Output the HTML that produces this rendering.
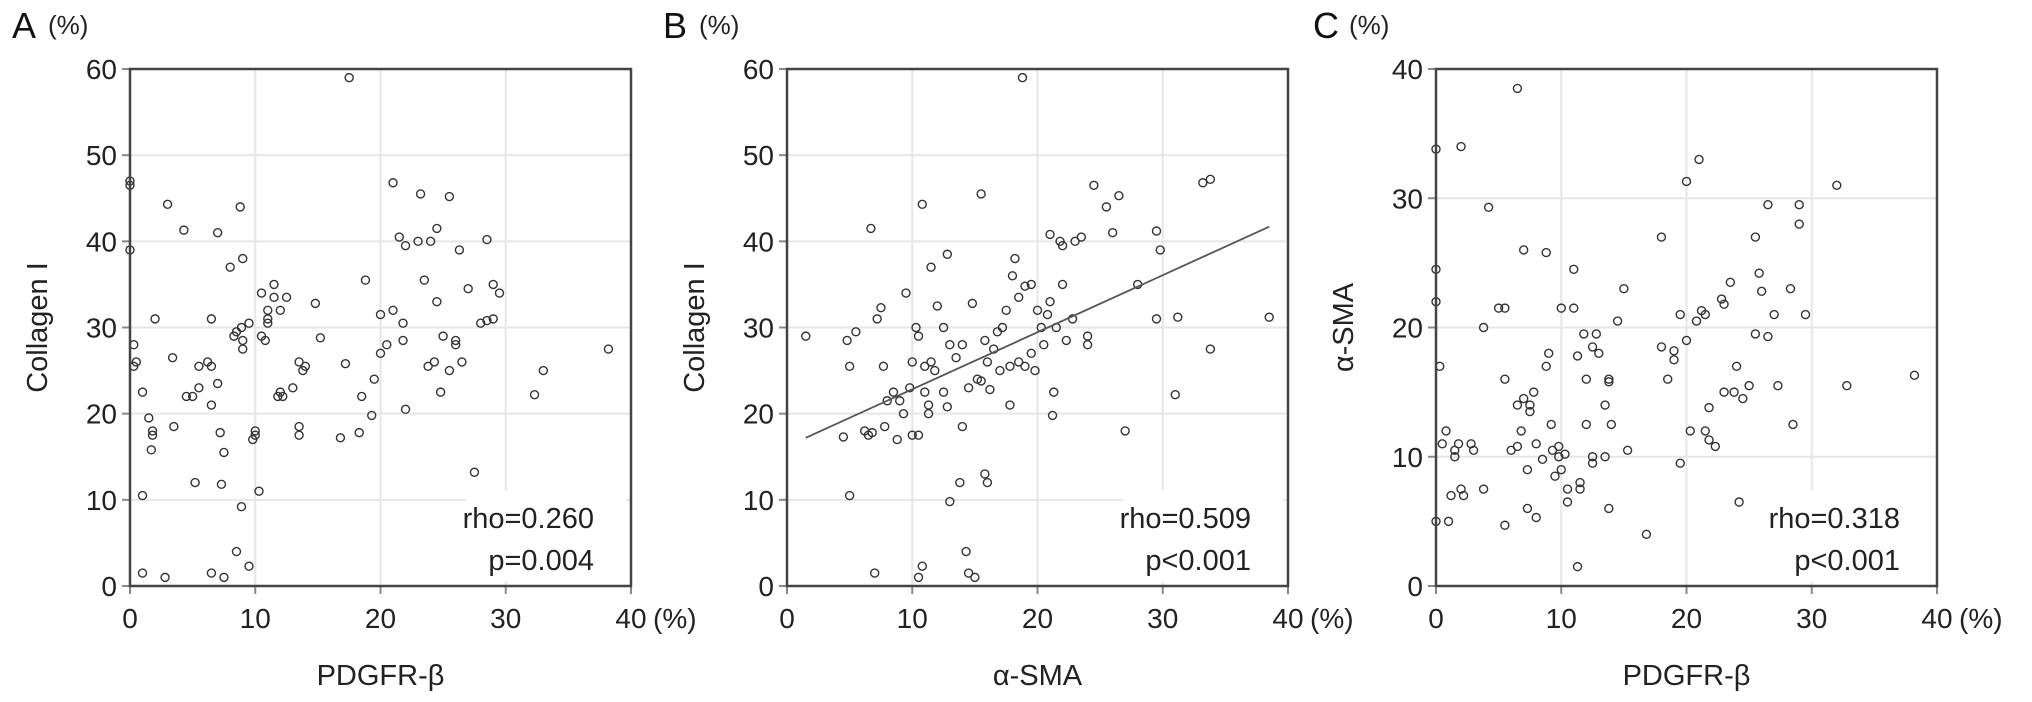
<!DOCTYPE html>
<html><head><meta charset="utf-8"><style>
body{margin:0;background:#fff}
svg{display:block;font-family:"Liberation Sans",sans-serif}
</style></head><body>
<svg id="s" width="2032" height="702" viewBox="0 0 2032 702"></svg>
<script>
const xTicks=[0,10,20,30,40];
const yTicksAB=[0,10,20,30,40,50,60];
const yTicksC=[0,10,20,30,40];
const aX=[0,0,0,0.3,0.5,0.3,1,1,1,1.5,1.8,1.8,1.7,2,2.8,3,3.4,3.5,4.3,4.5,5.5,5,5.2,5.5,6.5,6.2,6.5,6.5,6.5,7,7,7.2,7.3,7.5,7.5,8,8.3,8.5,8.5,8.8,8.9,9,9,9,8.9,9.5,9.5,9.8,10,10,10.3,10.5,10.5,10.8,11,11,11,11.5,11.5,11.8,12,12,12.2,12.5,13,13.5,13.5,13.5,13.8,14,14.8,15.2,16.8,17.2,17.5,18.3,18.5,18.8,19.3,19.5,20,20,20.5,21,21,21.5,21.8,21.8,22,22,23,23.2,23.5,23.8,24,24.3,24.5,24.5,24.8,25,25.5,25.5,26,26,26.3,26.5,27,27.5,28,28.5,28.5,29,29,29.5,32.3,33,38.2];
const aY=[47,46.5,39,28,26,25.5,22.5,10.5,1.5,19.5,18,17.5,15.8,31,1,44.3,26.5,18.5,41.3,22,25.5,22,12,23,31,26,25.5,21,1.5,41,23.5,17.8,11.8,1,15.5,37,29,29.5,4,44,30,27.5,28.5,38,9.2,2.3,30.5,17,18,17.5,11,34,29,28.5,31,30.5,32,33.5,35,22,32,22.5,22,33.5,23,26,18.5,17.5,25,25.5,32.8,28.8,17.2,25.8,59,17.8,22,35.5,19.8,24,31.5,27,28,46.8,32,40.5,28.5,30.5,39.5,20.5,40,45.5,35.5,25.5,40,26,41.5,33,22.5,29,45.2,25,28.5,28,39,26,34.5,13.2,30.5,40.2,30.8,31,35,34,22.2,25,27.5];
const bX=[1.5,4.5,4.8,5,5,5.5,6.2,6.5,6.7,6.8,7.2,7.5,7.7,7,7.8,8,8.5,8.8,9,9.3,9.5,9.8,10,10,10.3,10.5,10.5,10.5,10.8,10.8,11,11,11.3,11.3,11.5,11.5,11.8,12,12.5,12.5,12.8,12.8,13,13,13.5,13.8,14,14,14.3,14.5,14.5,14.8,15,15.2,15.5,15.5,15.8,15.8,16,16,16.2,16.5,16.8,17,17.2,17.5,17.8,17.8,18,18.2,18.5,18.5,18.8,19,19,19.5,19.5,19.8,20,20.3,20.5,20.8,21,21,21.2,21.3,21.5,21.8,22,22,22.3,22.8,23,23.5,24,24.5,24,25.5,26,26.5,27,28,29.5,29.5,29.8,31,31.2,33.2,33.8,33.8,38.5];
const bY=[29,17.3,28.5,25.5,10.5,29.5,18,17.5,41.5,17.8,31,32.3,25.5,1.5,18.5,21.5,22.5,17,21.5,20,34,23,17.5,26,30,29,17.5,1,2.3,44.3,25.5,22.5,21,20,37,26,25,32.5,30,22.5,38.5,20.8,28,9.8,26.5,12,18.5,28,4,1.5,23,32.8,1,24,45.5,23.8,28.5,13,12,26,22.8,27.5,29.5,25,30,32,21,25.5,36,38,26,33.5,59,25.5,34.8,35,27,25,32,30,28,31.5,33,40.8,19.8,22.5,30,40,39.5,35,28.5,31,40,40.5,28,46.5,29,44,41,45.3,18,35,41.2,31,39,22.2,31.2,46.8,47.2,27.5,31.2];
const bFitX=[1.5,38.5];
const bFitY=[17.2,41.7];
const cX=[0,0,0,0,0.3,0.5,0.8,1,1.2,1.5,1.5,1.8,2,2,2.2,2.8,3,3.8,3.8,4.2,5,5.5,5.5,5.5,6,6.5,6.5,6.5,6.8,7,7,7.3,7.3,7.5,7.5,7.8,8,8,8.5,8.8,8.8,9,9.2,9.3,9.5,9.8,9.8,10,10,10.3,10.5,10.5,11,11,11.3,11.3,11.5,11.5,11.8,12,12,12.5,12.5,12.5,12.8,13,13.5,13.8,13.8,13.5,13.8,14,14.5,15,15.3,16.8,18,18,18.5,19,19,19.5,19.5,20,20,20.3,20.8,21,21.2,21.5,21.5,21.8,21.8,22.3,22.8,23,23,23.5,23.8,24,24.2,24.5,25,25.5,25.5,25.8,26,26.5,26.5,27,27.3,28.3,28.5,29,29,29.5,32,32.8,38.2];
const cY=[33.8,24.5,22,5,17,11,12,5,7,10.5,10,11,34,7.5,7,11,10.5,20,7.5,29.3,21.5,21.5,16,4.7,10.5,38.5,14,10.8,12,26,14.5,9,6,14,13.5,15,11,5.3,9.8,17,25.8,18,12.5,10.5,8.5,10.8,10,21.5,9,10.2,7.5,6.5,24.5,21.5,17.8,1.5,8,7.5,19.5,16,12.5,10,9.5,18.5,19.5,18,14,16,15.8,10,6,12.5,20.5,23,10.5,4,27,18.5,16,18.2,17.5,21,9.5,19,31.3,12,20.5,33,21.3,21,12,13.8,11.3,10.8,22.2,15,21.8,23.5,15,17,6.5,14.5,15.5,19.5,27,24.2,22.8,29.5,19.3,21,15.5,23,12.5,29.5,28,21,31,15.5,16.3];

const NS='http://www.w3.org/2000/svg';
const svg=document.getElementById('s');
function mk(t,a,p){const e=document.createElementNS(NS,t);for(const k in a)e.setAttribute(k,a[k]);(p||svg).appendChild(e);return e;}

function panel(o){
  const g=mk('g',{});
  
  
  const x0=o.left,x1=o.left+501,y0=586,y1=69;
  const sx=v=>x0+(v/40)*(x1-x0);
  const sy=v=>y0-(v/o.ymax)*(y0-y1);
  xTicks.forEach(t=>{if(t>0&&t<40){const l=mk('line',{x1:sx(t),x2:sx(t),y1:y1,y2:y0,stroke:'#e6e6e6','stroke-width':2},g);}});
  o.yt.forEach(t=>{if(t>0&&t<o.ymax){const l=mk('line',{x1:x0,x2:x1,y1:sy(t),y2:sy(t),stroke:'#e6e6e6','stroke-width':2},g);}});
  const bg=mk('rect',{x:x1-165,y:490,width:160,height:92,fill:'#fff'},g);
  
  
  xTicks.forEach(t=>{
    mk('line',{x1:sx(t),x2:sx(t),y1:y0,y2:y0+8,stroke:'#888','stroke-width':2},g);
    const tx=mk('text',{x:sx(t),y:628,'font-size':28,'text-anchor':'middle',fill:'#222'},g);
    tx.textContent=t;
    
    
  });
  const pc=mk('text',{x:sx(40)+22,y:628,'font-size':28,fill:'#222'},g);pc.textContent='(%)';
  
  
  o.yt.forEach(t=>{
    mk('line',{x1:x0-8,x2:x0,y1:sy(t),y2:sy(t),stroke:'#888','stroke-width':2},g);
    const tx=mk('text',{x:x0-13,y:sy(t)+10,'font-size':28,'text-anchor':'end',fill:'#222'},g);
    tx.textContent=t;
    
    
  });
  o.xs.forEach((v,i)=>{
    const c=mk('circle',{cx:sx(v),cy:sy(o.ys[i]),r:4,fill:'none',stroke:'#333','stroke-width':1.4},g);
    
    
  });
  if(o.fit){
    const l=mk('line',{x1:sx(o.fit[0][0]),y1:sy(o.fit[1][0]),x2:sx(o.fit[0][1]),y2:sy(o.fit[1][1]),stroke:'#555','stroke-width':1.8},g);
    
    
  }
  const fr=mk('rect',{x:x0,y:y1,width:x1-x0,height:y0-y1,fill:'none',stroke:'#444','stroke-width':2.5},g);
  
  
  const r1=mk('text',{x:x1-37,y:528,'font-size':29,'text-anchor':'end',fill:'#222'},g);r1.textContent=o.rho;
  
  
  const r2=mk('text',{x:x1-37,y:570,'font-size':29,'text-anchor':'end',fill:'#222'},g);r2.textContent=o.p;
  
  
  const L=mk('text',{x:o.letterX,y:38,'font-size':36,fill:'#111'},g);L.textContent=o.id;
  
  
  const u=mk('text',{x:o.letterX+36,y:34,'font-size':26,fill:'#222'},g);u.textContent='(%)';
  
  
  const yt=mk('text',{x:0,y:0,'font-size':29,'text-anchor':'middle',fill:'#222',transform:`translate(${o.left-83},${(y0+y1)/2}) rotate(-90)`},g);
  yt.textContent=o.ytitle;
  
  
  const xt=mk('text',{x:(x0+x1)/2,y:685,'font-size':29,'text-anchor':'middle',fill:'#222'},g);
  xt.textContent=o.xtitle;
  
  
}
panel({id:'A',left:130,ymax:60,yt:yTicksAB,xs:aX,ys:aY,rho:'rho=0.260',p:'p=0.004',letterX:12,ytitle:'Collagen I',xtitle:'PDGFR-β'});
panel({id:'B',left:787,ymax:60,yt:yTicksAB,xs:bX,ys:bY,fit:[bFitX,bFitY],rho:'rho=0.509',p:'p<0.001',letterX:663,ytitle:'Collagen I',xtitle:'α-SMA'});
panel({id:'C',left:1436,ymax:40,yt:yTicksC,xs:cX,ys:cY,rho:'rho=0.318',p:'p<0.001',letterX:1313,ytitle:'α-SMA',xtitle:'PDGFR-β'});
</script>
</body></html>
